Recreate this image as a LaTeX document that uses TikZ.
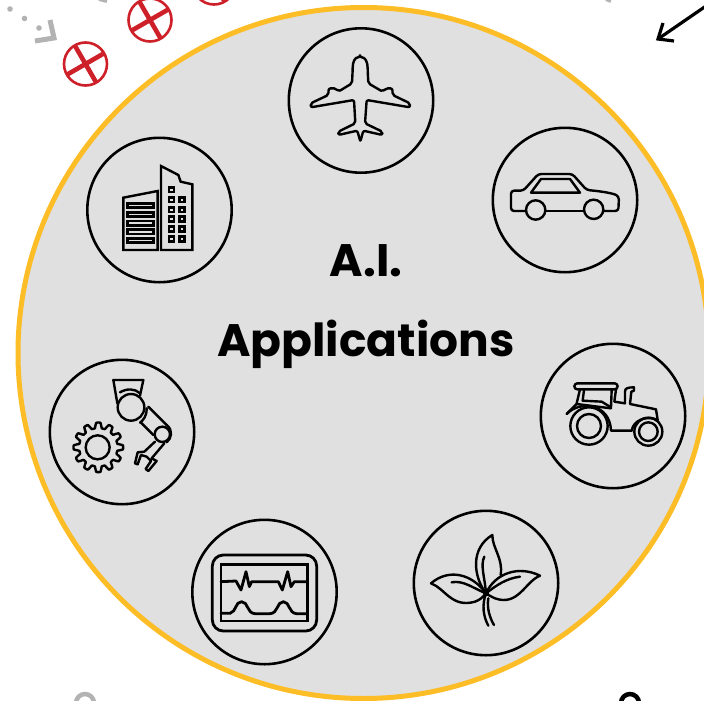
\documentclass[tikz,border=0pt]{standalone}
\usepackage{fontspec}
\setmainfont{Poppins}[BoldFont=* Bold]
\definecolor{discgray}{HTML}{E0E0E0}
\definecolor{ringor}{HTML}{FDBD26}
\definecolor{redx}{HTML}{CE2029}
\definecolor{markgray}{HTML}{B3B3B3}
\tikzset{
  ring/.style={draw=black,line width=2.6pt,fill=discgray},
  icon/.style={draw=black,line width=2.4pt,line join=round,line cap=round},
  thick icon/.style={icon,line width=2.8pt},
  zoomed/.style 2 args={shift={(#1,#2)},x=0.33333pt,y=-0.33333pt},
  title/.style={font=\bfseries\fontsize{45.5}{46}\selectfont,text=black,inner sep=0pt,anchor=base},
  redring/.style={draw=redx,line width=2.6pt,fill=white},
  redcross/.style={draw=redx,line width=4.6pt}
}
\newcommand{\redmark}[2]{%
  \draw[redring] (#1,#2) circle[radius=21.5];
  \draw[redcross,shift={(#1,#2)},rotate=30] (-21.5,0) -- (21.5,0) (0,-21.5) -- (0,21.5);
}
\begin{document}
\begin{tikzpicture}[x=1pt,y=-1pt,line width=1pt]
\useasboundingbox (0,0) rectangle (704,701);
\clip (0,0) rectangle (704,701);
% main disc
\draw[draw=ringor,fill=discgray,line width=5pt] (363.5,353) circle[radius=345.5];
% decorations outside the disc
\redmark{85.5}{64}
\redmark{150}{20}
\redmark{214}{-17}
\foreach \px/\py in {10/9,24.5/18.5,39/28} \fill[markgray] (\px,\py) circle[radius=2.8];
\draw[markgray,line width=5pt] (50,20) -- (54,38) -- (35,41);
\draw[markgray,line width=4pt] (99,-1) -- (107,1);
\draw[markgray,line width=4pt] (606,-1) -- (611,1);
\draw[black,line width=3.2pt] (706,6) -- (658,39);
\draw[black,line width=3.2pt] (663,23) -- (658,39) -- (674,41);
\draw[markgray,line width=4.5pt] (85,703) circle[radius=9];
\draw[black,line width=4.5pt] (630,703) circle[radius=9];
% icon rings
\foreach \nm/\cx/\cy in {plane/361/100.5,car/565/200,tractor/613/416,plant/486/583,monitor/264.5/592,robot/122/432,city/159.5/210}
  \draw[ring] (\cx,\cy) circle[radius=72.2];
% title
\node[title] (ai) at (366,276) {A.I.};
\node[title] (apps) at (366,356) {Applications};
% plane
\begin{scope}[zoomed={280}{20}]
\draw[icon,rounded corners=2pt] (240,112) .. controls (225,112) and (218,125) .. (218,150)
 -- (216,190) -- (175,215) -- (168,205) -- (146,205) -- (145,225) -- (92,250) -- (92,262) -- (222,240) -- (226,310) -- (175,335) -- (175,345) -- (232,332)
 -- (241,365) -- (250,332) -- (307,345) -- (307,335) -- (255,310) -- (260,240) -- (390,262) -- (390,250) -- (338,225) -- (337,205) -- (318,205) -- (308,215) -- (265,190) -- (263,150) .. controls (263,125) and (255,112) .. (240,112) -- cycle;
\end{scope}
% car
\begin{scope}[zoomed={485}{0}]
\draw[icon,rounded corners=3pt] (122,633) -- (78,633) -- (78,572) -- (115,572) -- (160,522) -- (262,522) -- (305,570) .. controls (350,574) and (385,580) .. (402,590) -- (400,633) -- (355,633);
\draw[icon] (296,633) -- (182,633);
\draw[icon] (152,630) circle[radius=29];
\draw[icon] (326,628) circle[radius=29];
\draw[icon] (138,578) -- (168,537) -- (255,537) -- (285,578) -- cycle;
\end{scope}
% tractor
\begin{scope}[zoomed={530}{340}]
\draw[icon,rounded corners=3pt] (133,130) rectangle (263,148);
\draw[icon] (150,148) -- (140,190);
\draw[icon] (162,150) -- (158,182) -- (215,185) -- (243,202) -- (245,150);
\draw[icon] (258,148) -- (253,185) -- (285,190) -- (285,155) .. controls (285,145) and (292,142) .. (312,142) -- (312,152) -- (304,155) -- (300,192) -- (378,208) -- (383,240);
\draw[icon] (110,222) -- (140,192) -- (243,205);
\draw[icon] (110,222) .. controls (150,180) and (240,190) .. (243,272) -- (305,272);
\draw[icon] (305,272) .. controls (310,240) and (350,225) .. (383,240);
\draw[icon] (177,258) circle[radius=56];
\draw[icon] (177,258) circle[radius=36];
\draw[icon] (355,275) circle[radius=42];
\draw[icon] (355,275) circle[radius=28];
\end{scope}
% plant
\begin{scope}[zoomed={405}{505}]
\draw[icon] (243,265) .. controls (205,215) and (195,130) .. (262,90) .. controls (262,130) and (295,160) .. (287,210);
\draw[icon] (238,155) .. controls (225,180) and (240,220) .. (243,265);
\draw[icon] (243,265) .. controls (200,205) and (130,190) .. (78,235) .. controls (120,250) and (140,310) .. (210,290) .. controls (225,285) and (235,275) .. (243,265);
\draw[icon] (140,232) .. controls (175,225) and (205,250) .. (243,265);
\draw[icon] (243,265) .. controls (270,205) and (340,180) .. (405,212) .. controls (360,230) and (340,305) .. (270,280) .. controls (260,276) and (250,270) .. (243,265);
\draw[icon] (345,215) .. controls (305,220) and (275,240) .. (243,265);
\draw[icon] (243,265) .. controls (230,300) and (235,335) .. (250,362);
\draw[icon] (250,280) .. controls (245,310) and (255,340) .. (267,360);
\fill (243,265) circle[radius=9];
\end{scope}
% monitor
\begin{scope}[zoomed={185}{515}]
\draw[thick icon,rounded corners=11pt] (82,120) rectangle (395,348);
\draw[thick icon,line join=miter] (108,148) rectangle (368,318);
\draw[thick icon] (108,200) -- (153,198) -- (168,225) -- (183,170) -- (193,215) -- (200,200) -- (280,200) -- (292,225) -- (308,170) -- (318,215) -- (328,200) -- (368,200);
\draw[thick icon] (108,295) -- (135,295) .. controls (155,290) and (150,260) .. (170,260) .. controls (190,260) and (185,295) .. (210,296) -- (255,296) .. controls (280,295) and (275,260) .. (295,260) .. controls (315,260) and (310,295) .. (335,296) -- (368,296);
\end{scope}
% robot
\begin{scope}[zoomed={45}{355}]
\draw[icon] plot[samples=145,domain=0:360,variable=\t] ({160+(66+8.5*tanh(3*cos(12*\t)))*cos(\t)},{277+(66+8.5*tanh(3*cos(12*\t)))*sin(\t)}) -- cycle;
\draw[icon] (158,277) circle[radius=36];
\draw[icon] (217,145) -- (205,75) -- (295,75) -- (285,122);
\draw[icon] (225,112) .. controls (245,100) and (270,100) .. (285,115);
\draw[icon] (258,157) circle[radius=40];
\draw[icon] (305,160) .. controls (305,185) and (295,195) .. (285,203);
\draw[icon] (310,155) -- (365,210);
\draw[icon] (288,203) -- (325,240);
\draw[icon] (352,238) circle[radius=23];
\draw[icon] (365,210) .. controls (385,225) and (380,250) .. (365,262);
\draw[icon] (330,260) -- (298,290) -- (278,292) -- (270,325) -- (278,328) -- (288,300) -- (305,305) -- (318,318) -- (302,342) -- (310,348) -- (335,318) -- (320,310) -- (358,265);
\end{scope}
% city
\begin{scope}[zoomed={80}{135}]
\draw[icon,line join=miter] (130,188) -- (233,168) -- (233,345) -- (130,345) -- cycle;
\draw[icon,line join=miter] (243,93) -- (295,120) -- (302,140) -- (337,148) -- (337,345) -- (243,345) -- cycle;
\foreach \sy in {205,232,258,284,310}
  \draw[icon,line join=miter] (142,\sy) rectangle (220,\sy+13);
\foreach \wx/\wy in {265/155,265/185,297/185,265/215,297/215,265/243,297/243,265/273,297/273,265/303,297/303}
  \draw[icon,line width=2.8pt,line join=miter] (\wx+2,\wy+2) rectangle (\wx+17,\wy+16);
\end{scope}
\end{tikzpicture}
\end{document}
